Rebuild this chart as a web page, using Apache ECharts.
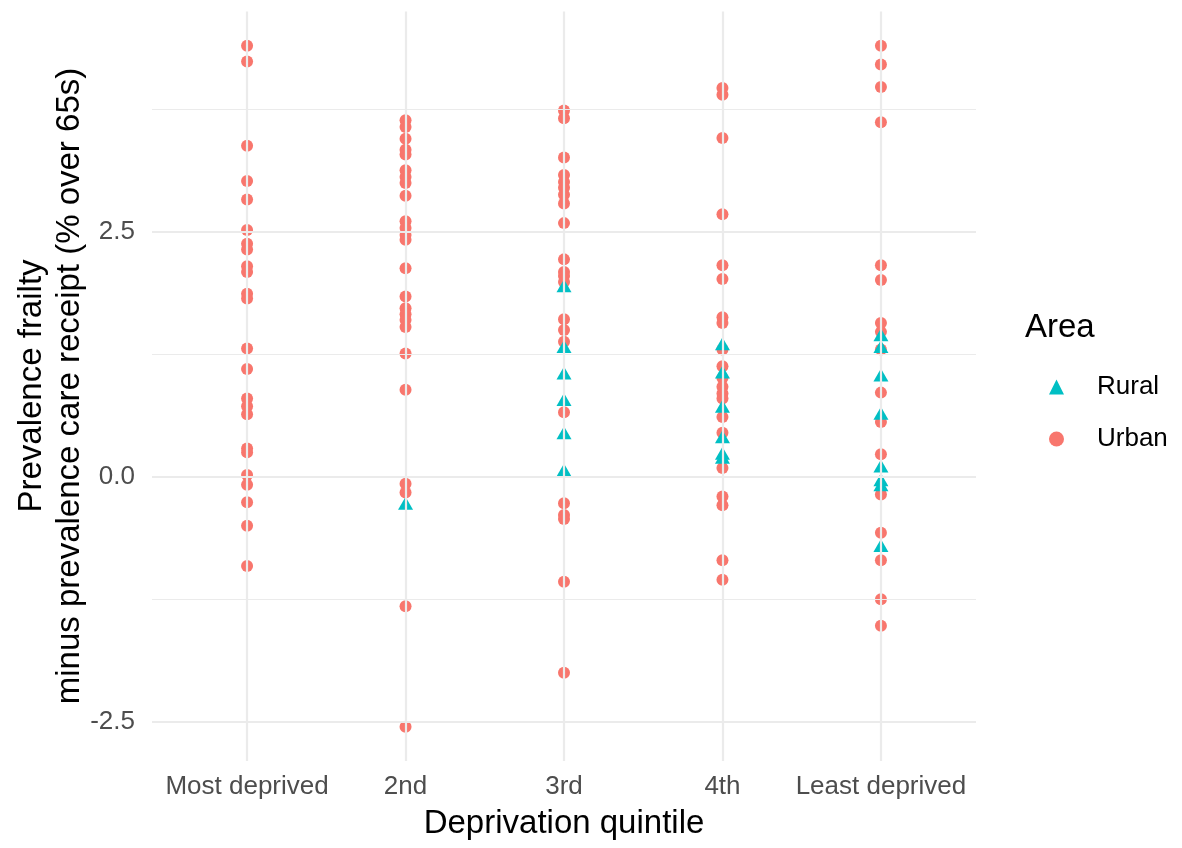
<!DOCTYPE html>
<html>
<head>
<meta charset="utf-8">
<script src="https://cdn.jsdelivr.net/npm/echarts@6/dist/echarts.min.js"></script>
<style>
  html, body { margin: 0; padding: 0; background: #ffffff; }
  #chart { width: 1182px; height: 848px; }
</style>
</head>
<body>
<div id="chart"></div>
<script>
// Deprivation quintiles along the x axis
const categories = ['Most deprived', '2nd', '3rd', '4th', 'Least deprived'];

// Prevalence frailty minus prevalence care receipt, per quintile
const urbanValues = [
  [4.40, 4.24, 3.38, 3.02, 2.83, 2.52, 2.38, 2.32, 2.15, 2.09, 1.87, 1.82, 1.31, 1.10,
   0.80, 0.72, 0.64, 0.29, 0.25, 0.02, -0.08, -0.26, -0.50, -0.91],
  [3.64, 3.57, 3.45, 3.34, 3.29, 3.13, 3.06, 3.00, 2.87, 2.61, 2.54, 2.47, 2.42, 2.13,
   1.84, 1.72, 1.66, 1.60, 1.53, 1.26, 0.89, -0.07, -0.16, -1.32, -2.55],
  [3.74, 3.66, 3.26, 3.08, 3.01, 2.95, 2.88, 2.79, 2.59, 2.22, 2.09, 2.05, 1.99, 1.61,
   1.50, 1.38, 0.66, -0.27, -0.39, -0.43, -1.07, -2.00],
  [3.97, 3.90, 3.46, 2.68, 2.16, 2.02, 1.63, 1.57, 1.30, 1.13, 1.01, 0.92, 0.85, 0.80,
   0.61, 0.45, 0.09, -0.20, -0.29, -0.85, -1.05],
  [4.40, 4.21, 3.98, 3.62, 2.16, 2.01, 1.57, 1.48, 1.30, 0.86, 0.56, 0.23, -0.18, -0.57,
   -0.85, -1.25, -1.52]
];
const ruralValues = [
  [],
  [-0.27],
  [1.95, 1.33, 1.06, 0.79, 0.45, 0.07],
  [1.36, 1.07, 0.72, 0.41, 0.24, 0.20],
  [1.45, 1.33, 1.04, 0.65, 0.11, -0.03, -0.08, -0.70]
];

// Axis breaks
const yBreaks = [-2.5, 0, 2.5];
const yMinorBreaks = [-1.25, 1.25, 3.75];
const xBreaks = [0, 1, 2, 3, 4];

const FONT = "'Liberation Sans', Arial, Helvetica, sans-serif";
const URBAN = '#F8766D';
const RURAL = '#00BFC4';
const GRID = '#EBEBEB';

function toPoints(groups) {
  const pts = [];
  groups.forEach((vals, i) => vals.forEach(v => pts.push([i, v])));
  return pts;
}

const chart = echarts.init(document.getElementById('chart'), null, { renderer: 'canvas' });

const option = {
  animation: false,
  backgroundColor: '#ffffff',
  grid: { left: 152, right: 206, top: 11.5, bottom: 87, containLabel: false },
  xAxis: {
    type: 'value',
    min: -0.6,
    max: 4.6,
    axisLine: { show: false },
    axisTick: { show: false, customValues: xBreaks },
    splitLine: { show: false },
    axisLabel: {
      customValues: xBreaks,
      formatter: v => categories[Math.round(v)] || '',
      color: '#4D4D4D',
      fontFamily: FONT,
      fontSize: 26,
      lineHeight: 26,
      margin: 13
    }
  },
  yAxis: {
    type: 'value',
    min: -2.9,
    max: 4.75,
    axisLine: { show: false },
    axisTick: { show: false, customValues: yBreaks },
    splitLine: { show: false },
    axisLabel: {
      customValues: yBreaks,
      formatter: v => v.toFixed(1),
      color: '#4D4D4D',
      fontFamily: FONT,
      fontSize: 26,
      margin: 17
    }
  },
  legend: {
    orient: 'vertical',
    left: 1049,
    top: 374,
    padding: 0,
    itemWidth: 15,
    itemHeight: 15,
    itemGap: 26,
    data: [
      { name: 'Rural', icon: 'triangle' },
      { name: 'Urban', icon: 'circle' }
    ],
    textStyle: {
      color: '#000000',
      fontFamily: FONT,
      fontSize: 26,
      lineHeight: 14,
      padding: [0, 0, 0, 28]
    }
  },
  graphic: [
    {
      type: 'text',
      x: 51, y: 386,
      rotation: Math.PI / 2,
      style: {
        text: 'Prevalence frailty\nminus prevalence care receipt (% over 65s)',
        fill: '#000000',
        font: '33px ' + FONT,
        align: 'center',
        verticalAlign: 'middle',
        lineHeight: 38
      }
    },
    {
      type: 'text',
      x: 564, y: 824,
      style: {
        text: 'Deprivation quintile',
        fill: '#000000',
        font: '33px ' + FONT,
        align: 'center',
        verticalAlign: 'middle'
      }
    },
    {
      type: 'text',
      x: 1025, y: 328,
      style: {
        text: 'Area',
        fill: '#000000',
        font: '33px ' + FONT,
        align: 'left',
        verticalAlign: 'middle'
      }
    }
  ],
  series: [
    {
      // panel gridlines
      name: 'grid',
      type: 'line',
      data: [],
      silent: true,
      markLine: {
        silent: true,
        symbol: 'none',
        label: { show: false },
        animation: false,
        data: [
          ...yMinorBreaks.map(v => ({ yAxis: v, lineStyle: { color: GRID, width: 1.1, type: 'solid' } })),
          ...yBreaks.map(v => ({ yAxis: v, lineStyle: { color: GRID, width: 2.2, type: 'solid' } })),
          ...xBreaks.map(v => ({ xAxis: v, lineStyle: { color: GRID, width: 2.2, type: 'solid' } }))
        ]
      }
    },
    {
      name: 'Urban',
      type: 'scatter',
      symbol: 'circle',
      symbolSize: 12,
      itemStyle: { color: URBAN, opacity: 1 },
      data: toPoints(urbanValues),
      z: 3
    },
    {
      name: 'Rural',
      type: 'scatter',
      symbol: 'triangle',
      symbolSize: [15, 13],
      itemStyle: { color: RURAL, opacity: 1 },
      data: toPoints(ruralValues),
      z: 4
    }
  ]
};

chart.setOption(option);
</script>
</body>
</html>
